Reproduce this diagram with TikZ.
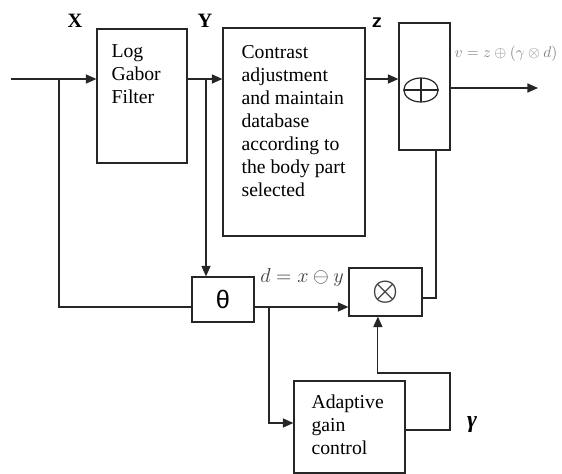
\documentclass[tikz,border=0pt]{standalone}
\usepackage{amsmath}
\usepackage{fontspec}
\setmainfont{Liberation Serif}
\newfontfamily\thetafont{Liberation Sans}
\usetikzlibrary{arrows.meta}

\begin{document}
\begin{tikzpicture}[x=0.025cm, y=-0.025cm, >={Triangle[length=7.5pt,width=6.5pt]},
line width=0.85pt, draw=black!85,
block/.style={draw, inner sep=0pt},
blocktext/.style={anchor=north west, align=left, inner sep=0pt, font=\fontsize{14}{16.3}\selectfont},
sig/.style={font=\fontsize{14.5}{14.5}\selectfont\bfseries}]
    \useasboundingbox (0,0) rectangle (562,474);
    % blocks
    \node[block, minimum width=2.25cm, minimum height=3.35cm] (LOG_GABOR) at (142,96) {};
    \node[block, minimum width=3.55cm, minimum height=5.2cm] (CONTRAST) at (294,132) {};
    \node[block, minimum width=1.275cm, minimum height=3.175cm] (SUM) at (424.5,86.5) {};
    \node[block, minimum width=1.55cm, minimum height=1.125cm, font=\thetafont\fontsize{18}{18}\selectfont] (THETA) at (223,299.5) {θ};
    \node[block, minimum width=1.825cm, minimum height=1.2cm, text=black!75, font=\fontsize{21}{21}\selectfont] (MULT) at (385.5,292) {$\boldsymbol{\otimes}$};
    \node[block, minimum width=2.775cm, minimum height=2.3cm] (AGC) at (349.5,427) {};
    \node[blocktext] (LOG_TEXT) at (111,44) {Log\\Gabor\\Filter};
    \node[blocktext] (CONTRAST_TEXT) at (241,45) {Contrast\\adjustment\\and maintain\\database\\according to\\the body part\\selected};
    \node[blocktext] (AGC_TEXT) at (311,394) {Adaptive\\gain\\control};

    % adder sign
    \coordinate (SUM_SIGN) at (421,90);
    \draw (SUM_SIGN) ellipse [x radius=0.43cm, y radius=0.3cm];
    \draw ([xshift=-0.43cm]SUM_SIGN) -- ([xshift=0.43cm]SUM_SIGN);
    \draw ([yshift=-0.3cm]SUM_SIGN) -- ([yshift=0.3cm]SUM_SIGN);

    % signal names
    \node[sig] (X_LABEL) at (75,21) {X};
    \node[sig] (Y_LABEL) at (205,21) {Y};
    \node[sig, font=\sffamily\bfseries\fontsize{15}{15}\selectfont] (Z_LABEL) at (377,23) {z};
    \node[text=black!50, font=\fontsize{10.5}{10.5}\selectfont] (V_LABEL) at (506,54) {$v = z \oplus (\gamma \otimes d)$};
    \node[text=black!75, font=\fontsize{15}{15}\selectfont] (D_LABEL) at (302,277) {$d = x \ominus y$};
    \node[font=\bfseries\itshape\fontsize{17}{17}\selectfont] (GAMMA) at (472,425) {γ};

    % connectors
    \coordinate (IN) at (11,79);
    \coordinate (X_SPLIT) at (59,79);
    \coordinate (Y_SPLIT) at (206,79);
    \coordinate (OUT) at (538,88);
    \coordinate (D_SPLIT) at (269,307);
    \coordinate (G_TURN) at (450,373);
    \coordinate (S_TURN) at (436,298);
    \draw[->] (IN) -- (LOG_GABOR.west |- IN);
    \draw (X_SPLIT) |- (THETA.west |- D_SPLIT);
    \draw[->] (LOG_GABOR.east |- IN) -- (CONTRAST.west |- IN);
    \draw[->] (Y_SPLIT) -- (Y_SPLIT |- THETA.north);
    \draw[->] (CONTRAST.east |- IN) -- (SUM.west |- IN);
    \draw[->] (SUM.east |- OUT) -- (OUT);
    \draw[->] (THETA.east |- D_SPLIT) -- (MULT.west |- D_SPLIT);
    \draw[->] (D_SPLIT) |- ([yshift=0.1cm]AGC.west);
    \draw[->] ([yshift=-0.075cm]AGC.east) -| (G_TURN) -| ([xshift=-0.19cm]MULT.south);
    \draw (SUM.south -| S_TURN) |- (MULT.east |- S_TURN);
\end{tikzpicture}
\end{document}
